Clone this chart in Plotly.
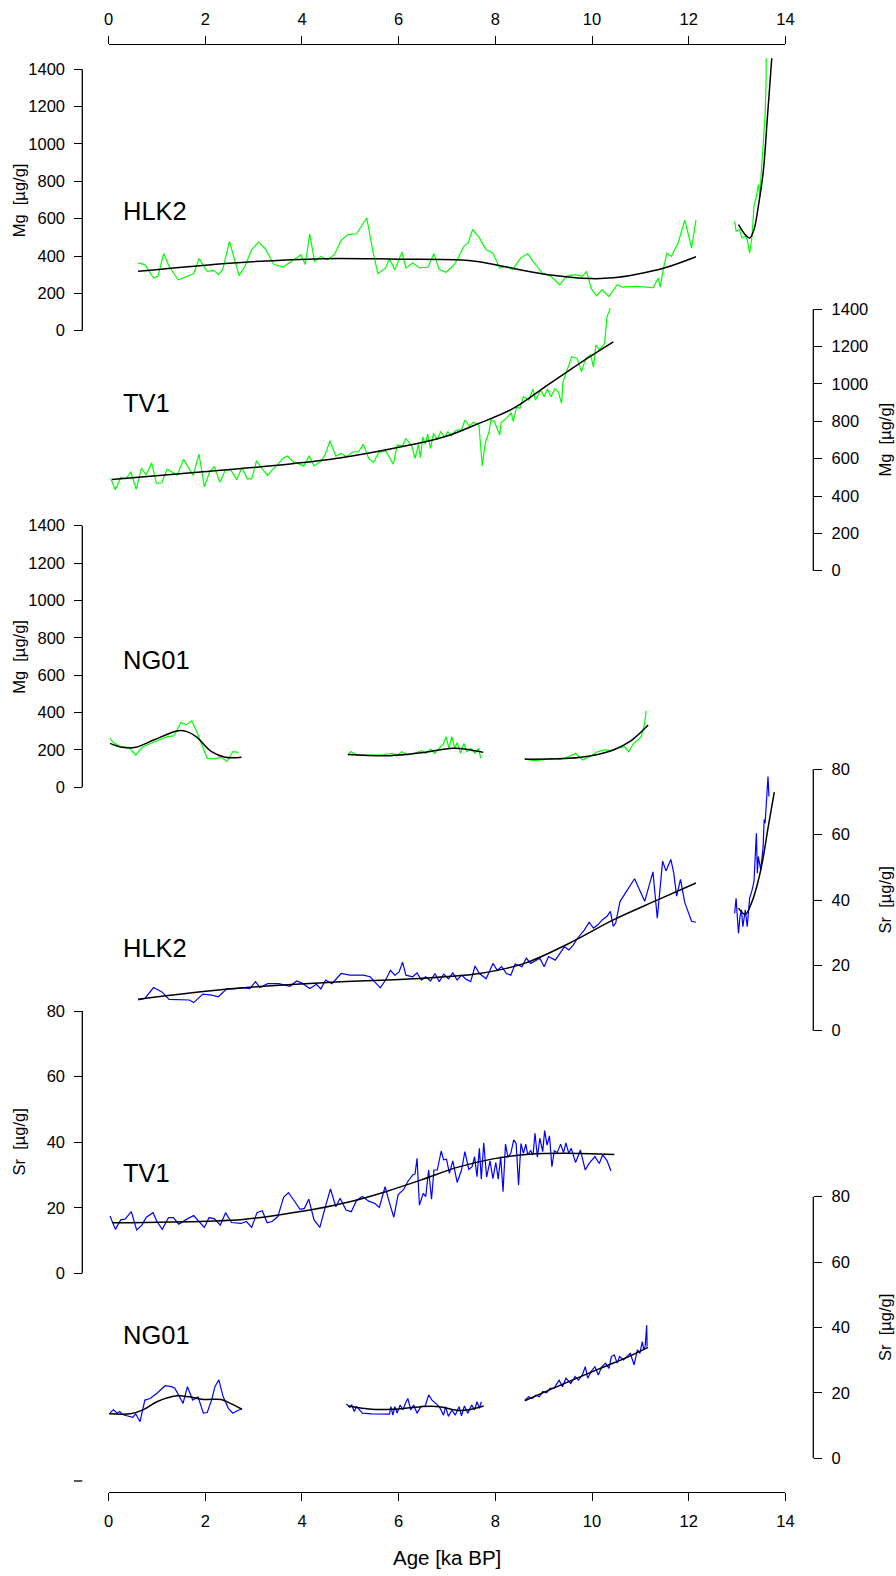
import plotly.graph_objects as go

# ---------------- data ----------------
# Mg (µg/g), HLK2
HLK2_MG_AGE_A = [0.61,0.75,0.93,1.02,1.14,1.25,1.44,1.76,1.87,2.04,2.18,2.27,2.36,2.50,2.70,2.82,2.96,3.10,3.24,3.42,
                 3.61,3.79,3.98,4.07,4.16,4.26,4.39,4.53,4.67,4.81,4.95,5.13,5.34,5.46,5.57,5.73,5.81,5.92,6.07,6.15,
                 6.29,6.43,6.61,6.73,6.84,6.98,7.12,7.21,7.35,7.44,7.53,7.67,7.81,7.95,8.09,8.23,8.36,8.52,8.67,8.78,
                 8.97,9.15,9.33,9.47,9.66,9.80,9.89,9.98,10.09,10.21,10.35,10.52,10.63,10.90,11.27,11.37,11.41,11.48,11.55,11.64,
                 11.78,11.92,12.06,12.15]
HLK2_MG_A = [363,354,282,291,413,345,273,305,386,318,323,300,327,478,295,345,434,475,439,354,
             341,371,407,354,519,371,398,380,407,484,515,519,605,434,305,336,386,327,421,336,
             363,336,341,413,327,313,345,380,452,470,542,497,434,416,336,345,327,389,413,371,
             309,291,246,291,300,291,318,228,187,219,183,246,233,237,231,282,233,336,416,398,
             470,592,443,592]
HLK2_MG_AGE_B = [12.95,12.98,13.05,13.10,13.17,13.21,13.26,13.31,13.35,13.40,13.44,13.47,13.51,13.55,13.58,13.60,13.61,13.65]
HLK2_MG_B = [587,533,541,497,506,488,416,506,667,720,783,720,882,1043,1151,1330,1600,1650]
HLK2_MG_FIT_AGE_A = [0.61,2.59,4.44,6.0,7.21,7.67,8.13,9.06,9.98,10.44,10.90,11.51,12.15]
HLK2_MG_FIT_A = [318,363,386,383,380,369,346,301,279,283,301,337,396]
HLK2_MG_FIT_AGE_B = [13.03,13.17,13.26,13.35,13.44,13.54,13.63,13.72,13.78]
HLK2_MG_FIT_B = [568,514,496,541,667,846,1151,1465,1700]

# Mg, TV1
TV1_MG_AGE = [0.04,0.14,0.25,0.36,0.46,0.57,0.68,0.78,0.89,0.99,1.10,1.21,1.42,1.55,1.75,1.87,1.98,2.09,2.19,2.30,
              2.42,2.53,2.65,2.76,2.87,2.96,3.06,3.17,3.29,3.38,3.49,3.60,3.70,3.81,3.92,4.04,4.15,4.25,4.38,4.47,
              4.58,4.70,4.81,4.92,5.06,5.17,5.27,5.38,5.48,5.59,5.73,5.89,5.97,6.08,6.15,6.27,6.34,6.41,6.45,6.50,
              6.55,6.60,6.66,6.72,6.80,6.87,6.95,7.02,7.09,7.19,7.30,7.37,7.46,7.55,7.66,7.73,7.79,7.87,7.91,7.98,
              8.09,8.12,8.23,8.33,8.37,8.44,8.51,8.58,8.69,8.78,8.83,8.94,9.01,9.08,9.15,9.23,9.30,9.37,9.40,9.47,
              9.58,9.69,9.78,9.87,9.97,10.03,10.08,10.15,10.26,10.31,10.38]
TV1_MG = [495,433,499,492,530,436,548,512,578,468,471,544,512,596,510,625,450,530,557,473,
          542,539,489,553,492,492,590,548,510,539,566,601,614,584,575,560,616,562,584,616,
          696,614,628,611,637,637,678,601,580,634,641,571,673,669,708,669,601,676,605,717,
          678,732,655,735,703,744,717,744,723,753,753,807,775,795,780,561,682,744,810,798,
          726,793,816,846,798,878,869,932,914,973,914,968,932,973,932,973,959,896,1012,1066,
          1146,1137,1066,1137,1155,1092,1209,1182,1218,1361,1406]
TV1_MG_FIT_AGE = [0.07,1.96,3.38,4.81,6.23,6.95,7.66,8.37,9.08,9.79,10.44]
TV1_MG_FIT = [489,530,562,605,673,717,789,869,994,1119,1226]

# Mg, NG01 (three sections)
NG01_MG_AGE_A = [0.03,0.10,0.24,0.42,0.56,0.70,0.84,1.02,1.21,1.35,1.50,1.60,1.72,1.81,1.95,2.04,2.21,2.32,2.45,2.57,2.69]
NG01_MG_A = [262,239,218,214,173,214,232,253,271,275,348,334,356,307,218,155,152,164,137,191,187]
NG01_MG_AGE_B = [4.95,5.01,5.13,5.36,5.64,5.87,5.96,6.06,6.19,6.33,6.47,6.56,6.66,6.75,6.84,6.93,6.98,7.04,7.10,7.16,
                 7.21,7.28,7.35,7.41,7.49,7.58,7.65,7.70]
NG01_MG_B = [173,191,173,171,173,182,168,191,173,182,196,182,203,182,209,235,271,209,271,209,
             239,182,235,191,209,182,209,155]
NG01_MG_AGE_C = [8.60,8.78,8.97,9.15,9.33,9.52,9.66,9.80,9.98,10.12,10.26,10.40,10.53,10.67,10.76,10.86,10.95,11.02,11.09,11.12]
NG01_MG_C = [155,143,146,155,150,164,182,146,168,191,200,196,209,218,191,235,253,271,342,410]
NG01_MG_FIT_AGE_A = [0.03,0.28,0.56,0.93,1.44,1.62,1.81,2.13,2.41,2.75]
NG01_MG_FIT_A = [235,214,214,253,303,298,271,191,161,161]
NG01_MG_FIT_AGE_B = [4.95,5.82,6.47,7.12,7.49,7.75]
NG01_MG_FIT_B = [176,169,185,209,200,187]
NG01_MG_FIT_AGE_C = [8.61,9.52,9.98,10.44,10.81,11.16]
NG01_MG_FIT_C = [150,155,169,200,250,333]

# Sr (µg/g), HLK2
HLK2_SR_AGE_A = [0.61,0.75,0.93,1.11,1.25,1.48,1.67,1.76,1.95,2.13,2.27,2.45,2.59,2.78,2.92,3.04,3.13,3.29,3.52,3.75,
                 3.89,4.02,4.16,4.30,4.39,4.49,4.62,4.81,4.99,5.27,5.41,5.50,5.62,5.73,5.83,5.92,6.01,6.08,6.15,6.29,
                 6.38,6.47,6.56,6.66,6.75,6.84,6.93,7.03,7.12,7.21,7.30,7.40,7.49,7.58,7.67,7.81,7.95,8.04,8.13,8.23,
                 8.32,8.41,8.55,8.64,8.73,8.83,8.92,9.01,9.10,9.24,9.33,9.43,9.52,9.61,9.70,9.84,9.94,10.03,10.12,10.21,
                 10.31,10.38,10.44,10.49,10.58,10.72,10.88,11.09,11.26,11.35,11.39,11.46,11.53,11.63,11.69,11.75,11.83,11.92,12.06,12.15]
HLK2_SR_A = [9.4,9.9,13.2,11.8,9.6,9.4,9.4,8.6,11.2,10.9,10.4,12.9,12.8,13.2,12.9,15.0,13.2,14.4,14.4,13.6,
             15.2,14.4,12.9,14.2,12.8,15.5,14.4,17.5,17.0,17.0,16.5,15.0,13.1,15.5,18.5,17.0,18.0,21.0,17.0,16.5,
             17.7,15.5,16.5,15.2,17.5,15.0,17.3,15.9,17.7,15.5,17.0,15.7,15.0,19.8,17.5,15.9,20.6,18.5,19.6,17.5,
             17.0,20.4,19.6,22.2,20.6,21.4,22.2,19.6,22.7,21.6,23.7,25.7,24.7,26.2,28.3,30.8,33.2,31.4,32.4,33.9,
             35.0,36.5,31.9,33.0,39.6,42.7,46.5,39.6,48.6,34.4,41.5,51.9,48.9,52.4,48.3,41.2,46.3,39.1,33.5,33.2]
HLK2_SR_AGE_B = [12.95,12.98,13.01,13.03,13.06,13.09,13.12,13.17,13.21,13.26,13.31,13.35,13.40,13.42,13.44,13.49,
                 13.54,13.56,13.58,13.61,13.64,13.66]
HLK2_SR_B = [35.9,40.5,33.9,29.8,34.9,37.0,31.8,37.0,31.8,40.5,43.0,45.6,60.4,48.2,53.3,49.2,56.4,64.6,63.5,70.7,77.8,71.7]
HLK2_SR_FIT_AGE_A = [0.61,2.59,4.44,6.29,7.67,8.60,9.52,10.44,11.37,12.15]
HLK2_SR_FIT_A = [9.6,12.9,14.7,15.9,17.5,20.6,26.7,33.9,40.1,45.2]
HLK2_SR_FIT_AGE_B = [13.03,13.17,13.31,13.44,13.54,13.64,13.77]
HLK2_SR_FIT_B = [37.5,35.6,39.5,46.0,53.0,62.0,73.0]

# Sr, TV1
TV1_SR_AGE = [0.03,0.14,0.25,0.34,0.47,0.58,0.69,0.78,0.92,1.00,1.11,1.24,1.34,1.45,1.63,1.76,1.98,2.08,2.19,2.31,
              2.42,2.54,2.74,2.85,2.96,3.07,3.18,3.28,3.38,3.50,3.62,3.72,3.85,3.96,4.05,4.14,4.25,4.37,4.48,4.59,
              4.70,4.79,4.91,5.02,5.13,5.25,5.38,5.51,5.60,5.72,5.81,5.90,5.99,6.10,6.19,6.29,6.34,6.38,6.43,6.51,
              6.56,6.62,6.68,6.73,6.80,6.88,6.93,6.99,7.05,7.12,7.21,7.30,7.37,7.45,7.52,7.57,7.62,7.67,7.71,7.76,
              7.82,7.89,7.95,8.01,8.06,8.11,8.16,8.21,8.26,8.32,8.38,8.43,8.48,8.53,8.58,8.63,8.67,8.73,8.78,8.82,
              8.87,8.92,8.98,9.02,9.07,9.12,9.17,9.22,9.28,9.35,9.41,9.46,9.52,9.57,9.66,9.76,9.86,9.94,10.06,10.15,
              10.22,10.31,10.39]
TV1_SR = [17.5,13.4,16.3,16.5,18.8,13.2,14.7,17.1,18.5,15.8,13.4,17.0,17.0,15.0,16.6,17.6,14.0,17.0,16.6,14.7,
          18.5,15.5,15.2,15.8,14.0,18.5,19.1,15.4,15.8,17.3,23.2,24.6,21.9,19.5,19.8,22.6,16.3,14.0,20.1,25.7,
          20.3,22.9,19.3,18.8,22.3,23.4,22.0,21.3,20.1,26.4,21.5,17.1,24.0,25.5,28.0,30.0,30.3,35.1,20.8,24.4,
          23.4,31.5,22.6,31.5,31.5,37.3,34.6,34.8,30.5,34.3,27.7,31.5,37.1,31.7,32.5,35.6,29.5,38.1,28.7,39.8,
          29.3,34.3,28.9,33.8,28.7,35.6,24.9,39.4,35.4,36.6,40.7,39.6,26.9,39.6,36.6,39.4,36.1,37.4,36.1,42.7,
          35.4,41.2,37.1,43.5,39.1,41.9,32.5,37.4,36.8,39.4,36.8,39.8,36.6,38.1,33.8,37.6,31.5,33.5,35.6,33.5,
          36.1,34.4,31.3]
TV1_SR_FIT_AGE = [0.08,2.04,2.78,3.52,4.25,4.99,5.73,6.47,7.21,7.95,8.69,9.43,10.46]
TV1_SR_FIT = [15.4,15.9,16.4,17.8,19.5,21.8,24.9,28.5,32.3,34.9,36.3,36.6,36.2]

# Sr, NG01 (three sections)
NG01_SR_AGE_A = [0.03,0.10,0.18,0.23,0.30,0.41,0.50,0.56,0.65,0.75,0.86,1.00,1.17,1.30,1.37,1.54,1.63,1.74,1.85,1.96,
                 2.04,2.13,2.20,2.28,2.37,2.48,2.57,2.67,2.74]
NG01_SR_A = [13.9,14.8,13.8,14.3,13.3,12.8,12.5,13.6,11.2,17.8,18.3,19.9,22.2,21.9,21.4,16.8,21.9,17.8,18.8,13.8,
             14.0,17.8,21.9,24.0,18.8,15.2,13.8,14.6,15.0]
NG01_SR_AGE_B = [4.92,4.99,5.03,5.08,5.13,5.25,5.44,5.81,5.84,5.88,5.92,5.97,6.03,6.09,6.14,6.19,6.25,6.31,6.38,6.46,
                 6.55,6.62,6.69,6.77,6.84,6.93,6.97,7.03,7.10,7.17,7.25,7.30,7.36,7.43,7.51,7.57,7.62,7.67,7.71]
NG01_SR_B = [16.6,15.6,16.3,14.3,15.8,13.8,13.6,13.5,15.8,13.2,15.8,13.8,16.3,14.8,16.8,18.3,14.8,16.3,13.8,15.8,
             16.0,19.4,17.8,16.8,15.8,13.2,15.8,12.8,14.8,13.2,15.8,13.0,16.0,13.8,16.3,14.8,17.3,15.3,17.3]
NG01_SR_AGE_C = [8.61,8.69,8.76,8.84,8.91,8.98,9.06,9.13,9.21,9.32,9.39,9.46,9.56,9.65,9.72,9.80,9.86,9.91,9.98,10.06,
                 10.13,10.20,10.28,10.35,10.40,10.46,10.52,10.57,10.65,10.72,10.79,10.87,10.94,10.99,11.04,11.07,11.10,11.13,11.14]
NG01_SR_C = [17.8,18.8,18.3,19.3,18.8,20.4,20.0,21.4,21.4,23.9,21.9,24.5,22.9,25.0,23.9,25.5,28.0,24.5,26.5,28.0,
             25.5,28.0,29.1,27.5,31.1,31.6,29.1,31.1,30.1,31.1,32.1,28.6,33.2,32.1,35.7,33.2,34.2,40.7,34.2]
NG01_SR_FIT_AGE_A = [0.01,0.45,0.71,1.00,1.41,1.67,1.96,2.33,2.52,2.76]
NG01_SR_FIT_A = [13.6,13.6,14.8,17.3,19.1,18.8,18.0,18.0,16.8,15.0]
NG01_SR_FIT_AGE_B = [4.96,5.44,5.88,6.47,6.84,7.28,7.76]
NG01_SR_FIT_B = [16.0,15.0,15.0,15.8,15.8,14.6,16.0]
NG01_SR_FIT_AGE_C = [8.61,9.43,10.17,10.76,11.16]
NG01_SR_FIT_C = [17.6,22.9,27.5,31.1,33.9]

AGE_TICKS = [0, 2, 4, 6, 8, 10, 12, 14]
MG_TICKS = [0, 200, 400, 600, 800, 1000, 1200, 1400]
SR_TICKS = [0, 20, 40, 60, 80]
SITE_LABELS = ["HLK2", "TV1", "NG01", "HLK2", "TV1", "NG01"]
MG_TITLE = "Mg  [µg/g]"
SR_TITLE = "Sr  [µg/g]"
X_TITLE = "Age [ka BP]"

# ---------------- layout geometry (pixels) ----------------
W, H = 896, 1576
FONT = "Liberation Sans, Arial, Helvetica, sans-serif"
GREEN, BLUE, BLACK = "#00ff00", "#0000ff", "#000000"
X_LEFT, X_RIGHT = 108.6, 785.4
PLOT_TOP, PLOT_BOT = 58.3, 1481.0
AX_LEFT, AX_RIGHT = 82.3, 813.3
TOP_AXIS_Y, BOT_AXIS_Y = 43.8, 1492.3


def fx(p):
    return p / W


def fy(p):
    return 1 - p / H


panels = [
    dict(zero=330.7, top=69.3, vmax=1400, ticks=MG_TICKS, side="left", title=MG_TITLE, label_y=210.7),
    dict(zero=570.7, top=309.3, vmax=1400, ticks=MG_TICKS, side="right", title=MG_TITLE, label_y=403.0),
    dict(zero=787.3, top=525.7, vmax=1400, ticks=MG_TICKS, side="left", title=MG_TITLE, label_y=659.5),
    dict(zero=1030.7, top=769.3, vmax=80, ticks=SR_TICKS, side="right", title=SR_TITLE, label_y=948.0),
    dict(zero=1273.3, top=1011.0, vmax=80, ticks=SR_TICKS, side="left", title=SR_TITLE, label_y=1172.7),
    dict(zero=1458.3, top=1196.7, vmax=80, ticks=SR_TICKS, side="right", title=SR_TITLE, label_y=1335.0),
]

series = [
    # (panel index, ages, values, colour, is_fit)
    (0, HLK2_MG_AGE_A, HLK2_MG_A, GREEN, False),
    (0, HLK2_MG_AGE_B, HLK2_MG_B, GREEN, False),
    (0, HLK2_MG_FIT_AGE_A, HLK2_MG_FIT_A, BLACK, True),
    (0, HLK2_MG_FIT_AGE_B, HLK2_MG_FIT_B, BLACK, True),
    (1, TV1_MG_AGE, TV1_MG, GREEN, False),
    (1, TV1_MG_FIT_AGE, TV1_MG_FIT, BLACK, True),
    (2, NG01_MG_AGE_A, NG01_MG_A, GREEN, False),
    (2, NG01_MG_AGE_B, NG01_MG_B, GREEN, False),
    (2, NG01_MG_AGE_C, NG01_MG_C, GREEN, False),
    (2, NG01_MG_FIT_AGE_A, NG01_MG_FIT_A, BLACK, True),
    (2, NG01_MG_FIT_AGE_B, NG01_MG_FIT_B, BLACK, True),
    (2, NG01_MG_FIT_AGE_C, NG01_MG_FIT_C, BLACK, True),
    (3, HLK2_SR_AGE_A, HLK2_SR_A, BLUE, False),
    (3, HLK2_SR_AGE_B, HLK2_SR_B, BLUE, False),
    (3, HLK2_SR_FIT_AGE_A, HLK2_SR_FIT_A, BLACK, True),
    (3, HLK2_SR_FIT_AGE_B, HLK2_SR_FIT_B, BLACK, True),
    (4, TV1_SR_AGE, TV1_SR, BLUE, False),
    (4, TV1_SR_FIT_AGE, TV1_SR_FIT, BLACK, True),
    (5, NG01_SR_AGE_A, NG01_SR_A, BLUE, False),
    (5, NG01_SR_AGE_B, NG01_SR_B, BLUE, False),
    (5, NG01_SR_AGE_C, NG01_SR_C, BLUE, False),
    (5, NG01_SR_FIT_AGE_A, NG01_SR_FIT_A, BLACK, True),
    (5, NG01_SR_FIT_AGE_B, NG01_SR_FIT_B, BLACK, True),
    (5, NG01_SR_FIT_AGE_C, NG01_SR_FIT_C, BLACK, True),
]

fig = go.Figure()


def yname(i):
    return "y" if i == 0 else f"y{i + 1}"


def ykey(i):
    return "yaxis" if i == 0 else f"yaxis{i + 1}"


for pi, ages, vals, col, is_fit in series:
    fig.add_trace(go.Scatter(
        x=ages, y=vals, xaxis="x", yaxis=yname(pi), mode="lines",
        line=dict(color=col, width=1.5 if is_fit else 1.2,
                  shape="spline" if is_fit else "linear", smoothing=1.0 if is_fit else None),
        hoverinfo="skip", showlegend=False,
    ))

# invisible trace so the top axis is drawn
fig.add_trace(go.Scatter(x=[0, 14], y=[None, None], xaxis="x2", yaxis="y",
                         mode="lines", showlegend=False, hoverinfo="skip"))

tickfont = dict(family=FONT, size=16.5, color="#000")
layout = dict(
    template="none",
    width=W, height=H, margin=dict(l=0, r=0, t=0, b=0, pad=0, autoexpand=False),
    paper_bgcolor="white", plot_bgcolor="rgba(0,0,0,0)", showlegend=False,
    font=dict(family=FONT, color="#000"),
    xaxis=dict(domain=[fx(X_LEFT), fx(X_RIGHT)], range=[0, 14], anchor="free", position=fy(BOT_AXIS_Y),
               automargin=False,
               showgrid=False, zeroline=False, showline=True, linecolor="#000", linewidth=1.3,
               ticks="outside", ticklen=8, tickwidth=1.3, tickcolor="#000",
               tickvals=AGE_TICKS, ticktext=[str(t) for t in AGE_TICKS], tickfont=tickfont,
               ticklabelstandoff=6),
    xaxis2=dict(domain=[fx(X_LEFT), fx(X_RIGHT)], range=[0, 14], anchor="free", position=fy(TOP_AXIS_Y),
                overlaying="x", side="top", automargin=False,
                showgrid=False, zeroline=False, showline=True, linecolor="#000", linewidth=1.3,
                ticks="outside", ticklen=8, tickwidth=1.3, tickcolor="#000",
                tickvals=AGE_TICKS, ticktext=[str(t) for t in AGE_TICKS], tickfont=tickfont,
                ticklabelstandoff=4),
)

shapes = []
annotations = []
for i, p in enumerate(panels):
    k = (p["zero"] - p["top"]) / p["vmax"]
    lo = -(PLOT_BOT - p["zero"]) / k
    hi = p["vmax"] + (p["top"] - PLOT_TOP) / k
    axx = AX_LEFT if p["side"] == "left" else AX_RIGHT
    layout[ykey(i)] = dict(
        domain=[fy(PLOT_BOT), fy(PLOT_TOP)], range=[lo, hi], anchor="free", position=fx(axx),
        side=p["side"], automargin=False, showgrid=False, zeroline=False, showline=False,
        ticks="outside", ticklen=8, tickwidth=1.3, tickcolor="#000",
        tickvals=p["ticks"], ticktext=[str(t) for t in p["ticks"]], tickfont=tickfont,
        ticklabelstandoff=6,
    )
    shapes.append(dict(type="line", xref="paper", yref=yname(i), x0=fx(axx), x1=fx(axx),
                       y0=0, y1=p["vmax"], line=dict(color="#000", width=1.3)))
    # axis title
    tx = 19.3 if p["side"] == "left" else 884.5
    annotations.append(dict(text=p["title"], xref="paper", yref="paper", x=fx(tx),
                            y=fy((p["zero"] + p["top"]) / 2), textangle=-90, showarrow=False,
                            xanchor="center", yanchor="middle",
                            font=dict(family=FONT, size=16.5, color="#000")))
    # site label
    annotations.append(dict(text=SITE_LABELS[i], xref="paper", yref="paper", x=fx(121.5),
                            y=fy(p["label_y"]), showarrow=False, xanchor="left", yanchor="middle",
                            borderpad=0, font=dict(family=FONT, size=25.5, color="#000")))

# stray tick at the lower left
shapes.append(dict(type="line", xref="paper", yref="paper", x0=fx(74.0), x1=fx(82.3),
                   y0=fy(1481.0), y1=fy(1481.0), line=dict(color="#000", width=1.3)))

annotations.append(dict(text=X_TITLE, xref="paper", yref="paper", x=fx((X_LEFT + X_RIGHT) / 2),
                        y=fy(1557.0), showarrow=False, xanchor="center", yanchor="middle",
                        font=dict(family=FONT, size=20.5, color="#000")))

layout["shapes"] = shapes
layout["annotations"] = annotations
fig.update_layout(**layout)

fig.write_html("out.html")
